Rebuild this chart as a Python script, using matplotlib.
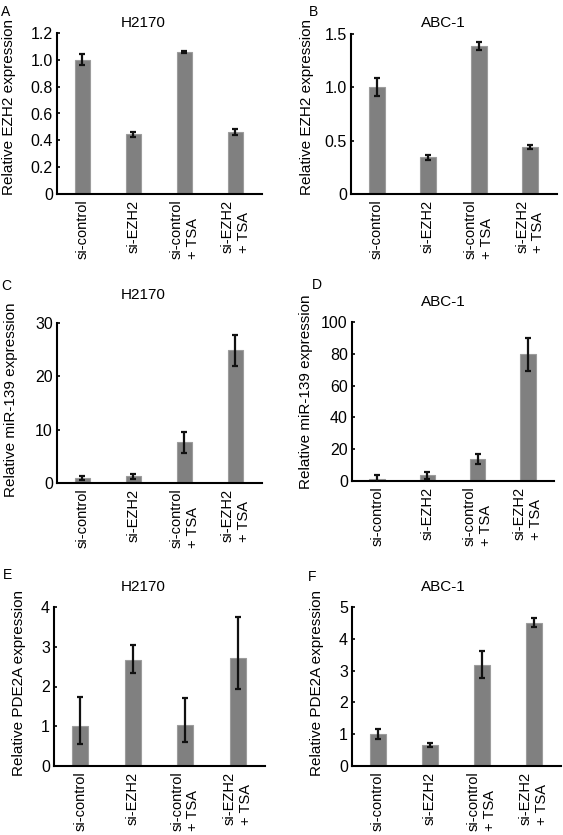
import matplotlib
matplotlib.use("Agg")
import matplotlib.pyplot as plt
import numpy as np

plt.rcParams['font.family'] = ['Liberation Sans', 'DejaVu Sans']

categories = ["si-control", "si-EZH2", "si-control\n+ TSA", "si-EZH2\n+ TSA"]

# Panel A: H2170 EZH2
a_vals = [1.00, 0.445, 1.058, 0.46]
a_err = [0.042, 0.02, 0.008, 0.022]
# Panel B: ABC-1 EZH2
b_vals = [1.00, 0.344, 1.39, 0.44]
b_err = [0.083, 0.025, 0.036, 0.019]
# Panel C: H2170 miR-139
c_vals = [1.0, 1.25, 7.6, 24.9]
c_err = [0.4, 0.5, 2.0, 2.9]
# Panel D: ABC-1 miR-139
d_vals = [1.0, 3.6, 13.9, 79.6]
d_err = [2.5, 2.2, 2.9, 10.4]
# Panel E: H2170 PDE2A (asymmetric errors)
e_vals = [1.0, 2.67, 1.03, 2.71]
e_err_lo = [0.44, 0.33, 0.42, 0.78]
e_err_hi = [0.73, 0.38, 0.68, 1.05]
# Panel F: ABC-1 PDE2A
f_vals = [1.0, 0.66, 3.19, 4.51]
f_err = [0.16, 0.05, 0.43, 0.13]

W, H = 563, 835
fig = plt.figure(figsize=(W / 100, H / 100), dpi=100)

def px_axes(left, right, top, bottom):
    return fig.add_axes([left / W, 1 - bottom / H, (right - left) / W, (bottom - top) / H])

panels = [
    # letter, title, ylabel, vals, err, ylim, yticks, ticklabels, axes px, letter px, title px, ylabel px (right edge, center y)
    ("A", "H2170", "Relative EZH2 expression", a_vals, a_err, 1.2,
     [0, 0.2, 0.4, 0.6, 0.8, 1.0, 1.2], ["0", "0.2", "0.4", "0.6", "0.8", "1.0", "1.2"],
     (57, 262, 33, 194), (1, 12), (143, 23), (16, 107)),
    ("B", "ABC-1", "Relative EZH2 expression", b_vals, b_err, 1.5,
     [0, 0.5, 1.0, 1.5], ["0", "0.5", "1.0", "1.5"],
     (351, 557, 34, 194), (309, 12), (443, 23), (314, 107)),
    ("C", "H2170", "Relative miR-139 expression", c_vals, c_err, 30,
     [0, 10, 20, 30], ["0", "10", "20", "30"],
     (57, 262, 323, 483), (1, 286), (143, 295), (18, 400)),
    ("D", "ABC-1", "Relative miR-139 expression", d_vals, d_err, 100,
     [0, 20, 40, 60, 80, 100], ["0", "20", "40", "60", "80", "100"],
     (352, 554, 322, 481), (312, 285), (443, 302), (313, 392)),
    ("E", "H2170", "Relative PDE2A expression", e_vals, [e_err_lo, e_err_hi], 4,
     [0, 1, 2, 3, 4], ["0", "1", "2", "3", "4"],
     (54, 265, 607, 766), (3, 575), (143, 587), (26, 683)),
    ("F", "ABC-1", "Relative PDE2A expression", f_vals, f_err, 5,
     [0, 1, 2, 3, 4, 5], ["0", "1", "2", "3", "4", "5"],
     (352, 561, 607, 766), (308, 577), (443, 587), (324, 683)),
]

x = np.arange(len(categories))
for (letter, title, ylabel, vals, err, ymax, yticks, yticklabels,
     axpx, letpx, titpx, ylpx) in panels:
    ax = px_axes(*axpx)
    ax.bar(x, vals, width=0.31, color="#808080", edgecolor="#9c9c9c", linewidth=0.8, zorder=2)
    ax.errorbar(x, vals, yerr=err, fmt="none", ecolor="#111111", elinewidth=1.6,
                capsize=2.2, capthick=1.6, zorder=3)
    ax.set_xlim(-0.5, 3.52)
    ax.set_ylim(0, ymax)
    ax.set_yticks(yticks)
    ax.set_yticklabels(yticklabels, fontsize=11.5)
    ax.set_xticks(x)
    ax.set_xticklabels(categories, rotation=90, fontsize=10.5, va="top", ha="center",
                       multialignment="left")
    ax.tick_params(axis="x", length=0, pad=4)
    ax.tick_params(axis="y", direction="in", length=2.5, width=1.2, pad=3)
    for s in ("top", "right"):
        ax.spines[s].set_visible(False)
    for s in ("left", "bottom"):
        ax.spines[s].set_linewidth(1.5)
        ax.spines[s].set_color("black")
    ax.set_ylabel(ylabel, fontsize=11)
    x0, x1, t, b = axpx
    ax.yaxis.set_label_coords((ylpx[0] - x0) / (x1 - x0), (b - ylpx[1]) / (b - t))
    fig.text(titpx[0] / W, 1 - titpx[1] / H, title, fontsize=11, ha="center", va="center")
    fig.text(letpx[0] / W, 1 - letpx[1] / H, letter, fontsize=10, ha="left", va="center")

fig.savefig("out.png", dpi=100, facecolor="white")
